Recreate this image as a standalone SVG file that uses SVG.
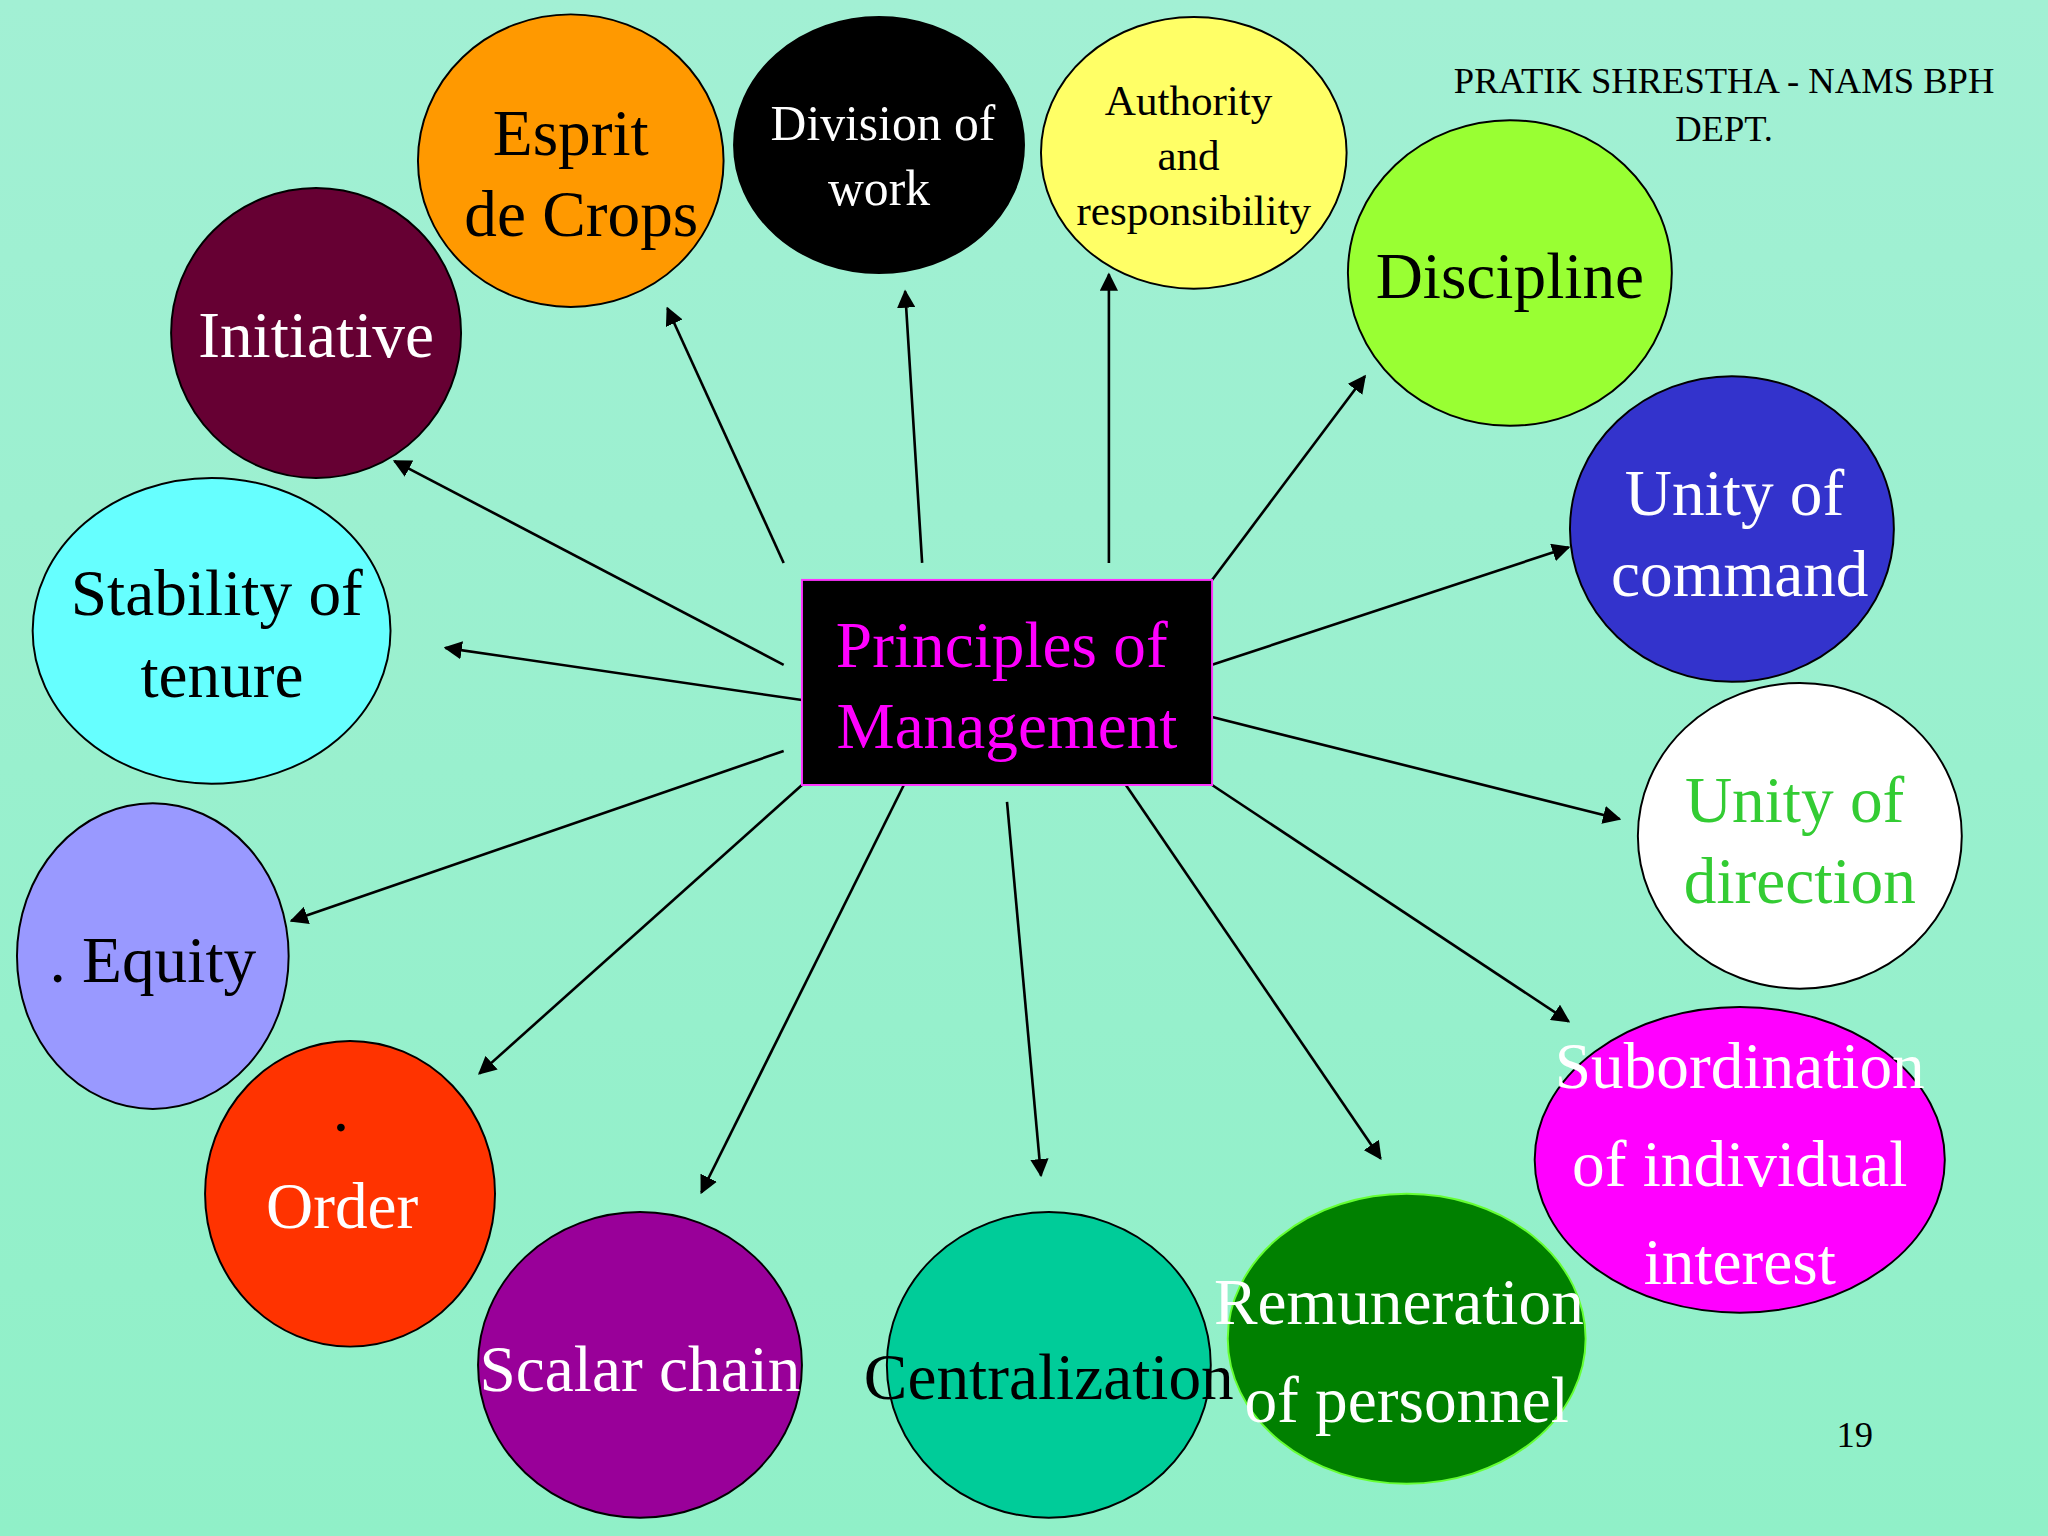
<svg xmlns="http://www.w3.org/2000/svg" width="2048" height="1536" viewBox="0 0 2048 1536">
<defs>
<linearGradient id="bg" x1="0" y1="0" x2="0" y2="1"><stop offset="0" stop-color="#a2f0d4"/><stop offset="1" stop-color="#90f0c8"/></linearGradient>
<marker id="ah" viewBox="0 0 10 10" refX="9" refY="5" markerWidth="7" markerHeight="7" orient="auto"><path d="M0,0 L10,5 L0,10 z" fill="#000"/></marker>
</defs>
<style>
.n ellipse{stroke:#000;stroke-width:1.5}
text{font-family:"Liberation Serif","Times New Roman",serif;text-anchor:middle}
.w{fill:#fff}.k{fill:#000}
#edges line{stroke:#000;stroke-width:2;marker-end:url(#ah)}
</style>
<rect width="2048" height="1536" fill="url(#bg)"/>
<g transform="scale(1.30612)">
<g id="edges">
<line x1="600" y1="431" x2="511" y2="236"/>
<line x1="706" y1="431" x2="693" y2="223"/>
<line x1="849" y1="431" x2="849" y2="210"/>
<line x1="928" y1="444" x2="1045" y2="288"/>
<line x1="928" y1="509" x2="1201" y2="419"/>
<line x1="928" y1="549" x2="1240" y2="627"/>
<line x1="928" y1="601" x2="1201" y2="782"/>
<line x1="862" y1="601" x2="1057" y2="887"/>
<line x1="771" y1="614" x2="797" y2="900"/>
<line x1="692" y1="601" x2="537" y2="913"/>
<line x1="614" y1="601" x2="367" y2="822"/>
<line x1="600" y1="575" x2="223" y2="705"/>
<line x1="614" y1="536" x2="341" y2="496"/>
<line x1="600" y1="509" x2="302" y2="353"/>
</g>
<g id="center"><rect x="614" y="444" width="314" height="157" fill="#000" stroke="#ff33ff" stroke-width="1.5"/>
<text x="767" y="511" font-size="50" fill="#ff00ff">Principles of</text><text x="771" y="573" font-size="50" fill="#ff00ff">Management</text></g>
<g class="n" id="esprit"><ellipse cx="437" cy="123" rx="117" ry="112" fill="#ff9900"/><text x="437" y="119" font-size="50" class="k">Esprit</text><text x="445" y="181" font-size="50" class="k">de Crops</text></g>
<g class="n" id="division"><ellipse cx="673" cy="111" rx="111" ry="98" fill="#000"/><text x="676" y="107" font-size="38" class="w">Division of</text><text x="673" y="157" font-size="38" class="w">work</text></g>
<g class="n" id="authority"><ellipse cx="914" cy="117" rx="117" ry="104" fill="#ffff66"/><text x="910" y="88" font-size="33" class="k">Authority</text><text x="910" y="130" font-size="33" class="k">and</text><text x="914" y="172" font-size="33" class="k">responsibility</text></g>
<g class="n" id="discipline"><ellipse cx="1156" cy="209" rx="124" ry="117" fill="#99ff33"/><text x="1156" y="228" font-size="50" class="k">Discipline</text></g>
<g class="n" id="initiative"><ellipse cx="242" cy="255" rx="111" ry="111" fill="#660033"/><text x="242" y="273" font-size="50" class="w">Initiative</text></g>
<g class="n" id="unitycommand"><ellipse cx="1326" cy="405" rx="124" ry="117" fill="#3333cc"/><text x="1328" y="394" font-size="50" class="w">Unity of</text><text x="1332" y="456" font-size="50" class="w">command</text></g>
<g class="n" id="stability"><ellipse cx="162" cy="483" rx="137" ry="117" fill="#66ffff"/><text x="166" y="471" font-size="50" class="k">Stability of</text><text x="170" y="534" font-size="50" class="k">tenure</text></g>
<g class="n" id="unitydirection"><ellipse cx="1378" cy="640" rx="124" ry="117" fill="#fff"/><text x="1374" y="629" font-size="50" fill="#33cc33">Unity of</text><text x="1378" y="691" font-size="50" fill="#33cc33">direction</text></g>
<g class="n" id="equity"><ellipse cx="117" cy="732" rx="104" ry="117" fill="#9999ff"/><text x="117" y="752" font-size="50" class="k">. Equity</text></g>
<g class="n" id="subordination"><ellipse cx="1332" cy="888" rx="157" ry="117" fill="#ff00ff"/><text x="1332" y="833" font-size="50" class="w">Subordination</text><text x="1332" y="908" font-size="50" class="w">of individual</text><text x="1332" y="983" font-size="50" class="w">interest</text></g>
<g class="n" id="order"><ellipse cx="268" cy="914" rx="111" ry="117" fill="#ff3300"/><text x="261" y="866" font-size="50" class="k">.</text><text x="262" y="940" font-size="50" class="w">Order</text></g>
<g class="n" id="scalar"><ellipse cx="490" cy="1045" rx="124" ry="117" fill="#990099"/><text x="490" y="1065" font-size="50" class="w">Scalar chain</text></g>
<g class="n" id="centralization"><ellipse cx="803" cy="1045" rx="124" ry="117" fill="#00cc99"/><text x="803" y="1071" font-size="50" class="k">Centralization</text></g>
<g class="n" id="remuneration"><ellipse cx="1077" cy="1025" rx="137" ry="111" fill="#008000" style="stroke:#66ff33"/><text x="1071" y="1014" font-size="50" class="w">Remuneration</text><text x="1077" y="1089" font-size="50" class="w">of personnel</text></g>
<text x="1320" y="71" font-size="28" class="k">PRATIK SHRESTHA - NAMS BPH</text>
<text x="1320" y="108" font-size="28" class="k">DEPT.</text>
<text x="1420" y="1108" font-size="28" class="k">19</text>
</g>
</svg>
